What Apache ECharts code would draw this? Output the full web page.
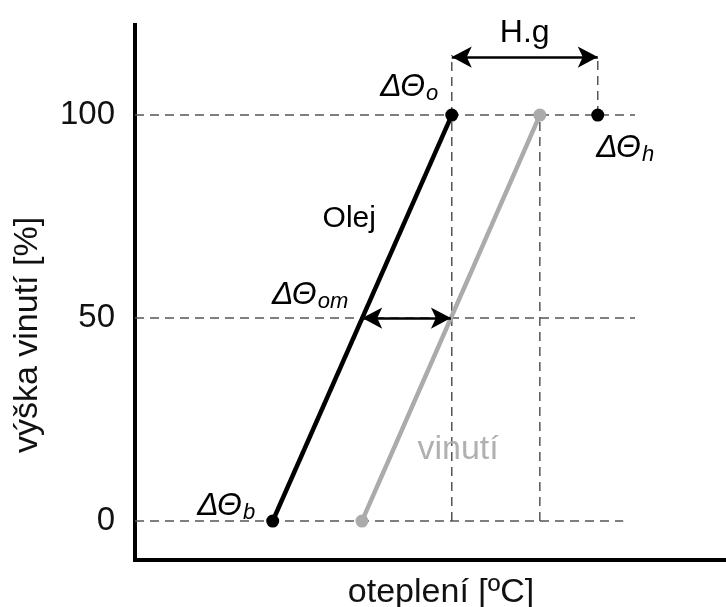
<!DOCTYPE html>
<html>
<head>
<meta charset="utf-8">
<script src="https://cdn.jsdelivr.net/npm/echarts@6/dist/echarts.min.js"></script>
<style>
  html, body { margin: 0; padding: 0; background: #fff; }
  #chart { width: 726px; height: 607px; }
</style>
</head>
<body>
<div id="chart"></div>
<script>
// height of winding [%] - the tick values
const heightTicks = [0, 50, 100]
// temperature rise (arbitrary units, axis has no labels): [bottom, top]
const oilRise = [23.3, 53.6]
const windingRise = [38.4, 68.5]
// hot spot rise at the top of the winding
const hotSpotRise = 78.3
// the level used for the H.g arrow
const hgLevel = 114.3
// where the dashed guide lines end on the right
const guideEnd = [82.6, 84.6, 84.6]

const font = 'Liberation Sans, Arial, sans-serif'
const dash = { color: '#555', width: 1.5, type: [9, 6] }

function lerp(a, b, t) {
  return a + (b - a) * t
}

// dashed guides built from the data
const guides = []
heightTicks.forEach(function (h, i) {
  guides.push([[0, h], [guideEnd[i], h]])
})
guides.push([[oilRise[1], 0], [oilRise[1], hgLevel + 0.5]])
guides.push([[windingRise[1], 0], [windingRise[1], 100]])
guides.push([[hotSpotRise, 100], [hotSpotRise, hgLevel + 0.5]])

const rich = {
  d: { fontFamily: font, fontSize: 32, fontStyle: 'italic', color: '#000', lineHeight: 34, verticalAlign: 'top' },
  s: { fontFamily: font, fontSize: 22, fontStyle: 'italic', color: '#000', lineHeight: 34, verticalAlign: 'bottom', padding: [14, 0, 0, 1] }
}

function delta(sub) {
  return '{d|ΔΘ}{s|' + sub + '}'
}

const series = []

guides.forEach(function (g) {
  series.push({
    type: 'line',
    data: g,
    symbol: 'none',
    silent: true,
    lineStyle: dash,
    z: 1
  })
})

series.push({
  name: 'Olej',
  type: 'line',
  data: [
    { value: [oilRise[0], heightTicks[0]], label: { show: true, position: 'left', distance: 11, offset: [0, -14], formatter: delta('b'), rich: rich } },
    { value: [oilRise[1], heightTicks[2]], label: { show: true, position: 'left', distance: 7, offset: [0, -27], formatter: delta('o'), rich: rich } }
  ],
  symbol: 'circle',
  symbolSize: 13,
  itemStyle: { color: '#000' },
  lineStyle: { color: '#000', width: 4.5 },
  z: 5,
  markLine: {
    silent: true,
    symbol: ['arrow', 'arrow'],
    symbolSize: [16, 20],
    lineStyle: { color: '#000', width: 2.5, type: 'solid' },
    label: { show: false },
    data: [
      [{ coord: [lerp(oilRise[0], oilRise[1], 0.5), 50] }, { coord: [lerp(windingRise[0], windingRise[1], 0.5), 50] }],
      [
        { coord: [oilRise[1], hgLevel], label: { show: true, position: 'middle', distance: 8, formatter: 'H.g', fontFamily: font, fontSize: 32, color: '#000' } },
        { coord: [hotSpotRise, hgLevel] }
      ]
    ]
  }
})

series.push({
  name: 'vinutí',
  type: 'line',
  data: [[windingRise[0], heightTicks[0]], [windingRise[1], heightTicks[2]]],
  symbol: 'circle',
  symbolSize: 13,
  itemStyle: { color: '#ababab' },
  lineStyle: { color: '#ababab', width: 4.5 },
  z: 4
})

series.push({
  name: 'hot spot',
  type: 'scatter',
  data: [{ value: [hotSpotRise, 100], label: { show: true, position: 'right', distance: 0, offset: [-8, 34], formatter: delta('h'), rich: rich } }],
  symbol: 'circle',
  symbolSize: 13,
  itemStyle: { color: '#000', opacity: 1 },
  z: 6
})

// text notes that sit next to the lines
series.push({
  type: 'scatter',
  silent: true,
  symbolSize: 0,
  itemStyle: { opacity: 1 },
  z: 7,
  data: [
    { value: [lerp(oilRise[0], oilRise[1], 0.5), 50], label: { show: true, position: 'left', distance: 14, offset: [0, -22], formatter: delta('om'), rich: rich } },
    { value: [lerp(oilRise[0], oilRise[1], 0.744), 74.4], label: { show: true, position: 'left', distance: 30, formatter: 'Olej', fontFamily: font, fontSize: 30, color: '#000' } },
    { value: [lerp(windingRise[0], windingRise[1], 0.177), 17.7], label: { show: true, position: 'right', distance: 24, formatter: 'vinutí', fontFamily: font, fontSize: 34, color: '#b0b0b0' } }
  ]
})

const chart = echarts.init(document.getElementById('chart'))
chart.setOption({
  animation: false,
  grid: { left: 135, right: 0, top: 25, bottom: 47 },
  xAxis: {
    type: 'value',
    min: 0,
    max: 100,
    axisLine: { show: true, onZero: false, lineStyle: { color: '#000', width: 4, cap: 'square' } },
    axisTick: { show: false },
    axisLabel: { show: false },
    splitLine: { show: false }
  },
  yAxis: {
    type: 'value',
    min: -9.6,
    max: 122.2,
    axisLine: { show: true, onZero: false, lineStyle: { color: '#000', width: 4, cap: 'square' } },
    axisTick: { show: false },
    axisLabel: {
      customValues: heightTicks,
      margin: 20,
      fontFamily: font,
      fontSize: 33,
      color: '#111'
    },
    splitLine: { show: false }
  },
  graphic: [
    {
      type: 'text',
      x: 28,
      y: 335,
      rotation: Math.PI / 2,
      style: { text: 'výška vinutí [%]', font: '34px ' + font, fill: '#111', align: 'center', verticalAlign: 'middle' }
    },
    {
      type: 'text',
      x: 441,
      y: 593,
      style: { text: 'oteplení [ºC]', font: '34px ' + font, fill: '#111', align: 'center', verticalAlign: 'middle' }
    }
  ],
  series: series
})
</script>
</body>
</html>
